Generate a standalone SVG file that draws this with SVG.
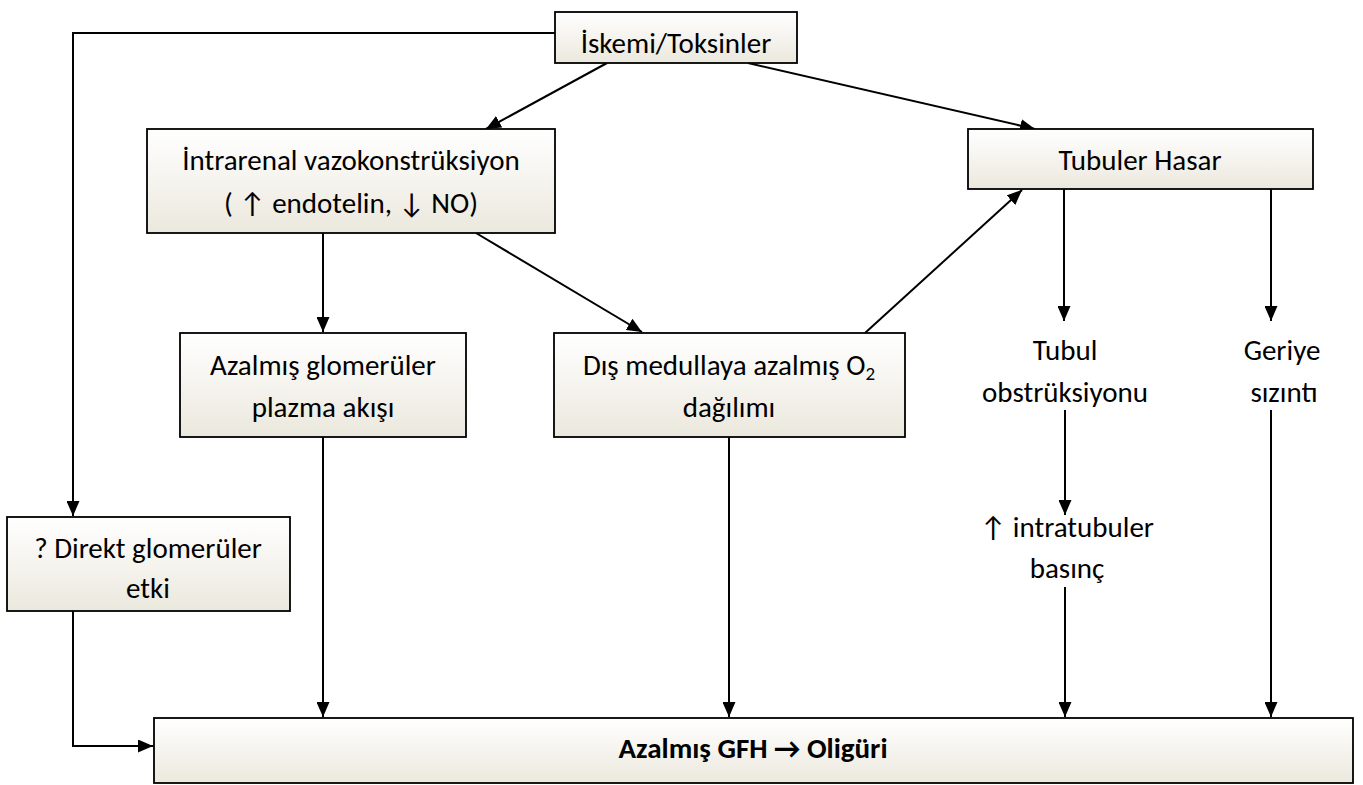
<svg xmlns="http://www.w3.org/2000/svg" width="1363" height="785" viewBox="0 0 1363 785">
<style>
.box{stroke:#000;stroke-width:1.8;fill:url(#g)}
.t{font-family:Carlito,Lato,"Liberation Sans",sans-serif;font-size:29px;fill:#000;text-anchor:middle}
.b{font-weight:bold}
.c{fill:none;stroke:#000;stroke-width:2}
</style>
<defs>
<linearGradient id="g" x1="0" y1="0" x2="0" y2="1">
<stop offset="0" stop-color="#ffffff"/>
<stop offset="1" stop-color="#ebe8dd"/>
</linearGradient>
<marker id="a" viewBox="0 0 15 13" refX="15" refY="6.5" markerWidth="15" markerHeight="13" markerUnits="userSpaceOnUse" orient="auto">
<path d="M0,0 L15,6.5 L0,13 Z" fill="#000"/>
</marker>
</defs>
<g id="connectors">
<path class="c" d="M555,33 H73 V516" marker-end="url(#a)"/>
<path class="c" d="M73,611 V746 H153" marker-end="url(#a)"/>
<path class="c" d="M607,63 L486,129" marker-end="url(#a)"/>
<path class="c" d="M748,63 L1035,129" marker-end="url(#a)"/>
<path class="c" d="M323,233 V332" marker-end="url(#a)"/>
<path class="c" d="M476,233 L642,332" marker-end="url(#a)"/>
<path class="c" d="M865,333 L1022,190" marker-end="url(#a)"/>
<path class="c" d="M1064,189 V321" marker-end="url(#a)"/>
<path class="c" d="M1271,189 V321" marker-end="url(#a)"/>
<path class="c" d="M1065,410 V515" marker-end="url(#a)"/>
<path class="c" d="M1065,587 V717" marker-end="url(#a)"/>
<path class="c" d="M1271,410 V717" marker-end="url(#a)"/>
<path class="c" d="M323,437 V717" marker-end="url(#a)"/>
<path class="c" d="M729,437 V717" marker-end="url(#a)"/>
</g>
<g id="iskemi">
<rect class="box" x="555" y="12" width="242" height="51"/>
<text class="t" x="676" y="53">İskemi/Toksinler</text>
</g>
<g id="intrarenal">
<rect class="box" x="147" y="129" width="408" height="104"/>
<text class="t" x="351" y="170">İntrarenal vazokonstrüksiyon</text>
<text class="t" x="351" y="213">( ↑ endotelin, ↓ NO)</text>
</g>
<g id="tubuler">
<rect class="box" x="968" y="129" width="345" height="60"/>
<text class="t" x="1140" y="170">Tubuler Hasar</text>
</g>
<g id="azalmis-gpa">
<rect class="box" x="180" y="333" width="286" height="104"/>
<text class="t" x="323" y="375">Azalmış glomerüler</text>
<text class="t" x="323" y="417">plazma akışı</text>
</g>
<g id="dis-medulla">
<rect class="box" x="554" y="333" width="351" height="104"/>
<text class="t" x="729" y="375">Dış medullaya azalmış O<tspan font-size="19" dy="5">2</tspan></text>
<text class="t" x="729" y="417">dağılımı</text>
</g>
<g id="tubul-obs">
<text class="t" x="1065" y="360">Tubul</text>
<text class="t" x="1065" y="402">obstrüksiyonu</text>
</g>
<g id="geriye">
<text class="t" x="1282" y="360">Geriye</text>
<text class="t" x="1284" y="402">sızıntı</text>
</g>
<g id="intratubuler">
<text class="t" x="1067" y="537">↑ intratubuler</text>
<text class="t" x="1067" y="578">basınç</text>
</g>
<g id="direkt">
<rect class="box" x="7" y="517" width="283" height="94"/>
<text class="t" x="148" y="558">? Direkt glomerüler</text>
<text class="t" x="148" y="598">etki</text>
</g>
<g id="sonuc">
<rect class="box" x="154" y="718" width="1199" height="65"/>
<text class="t b" x="753" y="758">Azalmış GFH → Oligüri</text>
</g>
</svg>
